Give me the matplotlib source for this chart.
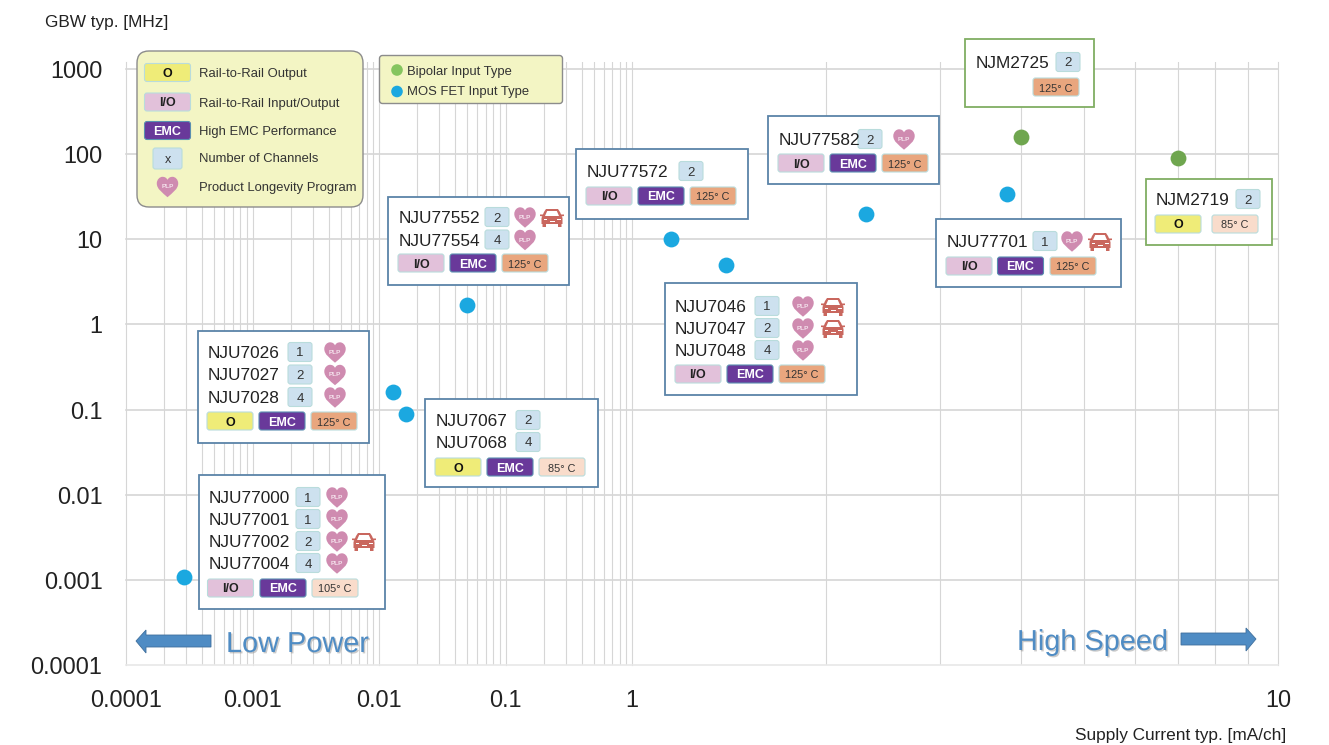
import numpy as np
import matplotlib
matplotlib.use("Agg")
import matplotlib.pyplot as plt
from matplotlib.patches import FancyBboxPatch, Rectangle, PathPatch, Polygon, Circle
from matplotlib.path import Path
import matplotlib.patheffects as pe

plt.rcParams['font.family'] = ['Liberation Sans', 'DejaVu Sans']

# ---------- data ----------
mos_current = [0.00029, 0.0129, 0.0163, 0.0495, 1.149, 1.40, 2.30, 3.80]
mos_gbw = [0.00108, 0.16, 0.088, 1.7, 10, 5, 20, 34]
bipolar_current = [4.0, 7.0]
bipolar_gbw = [160, 90]
x_tick_values = [0.0001, 0.001, 0.01, 0.1, 1, 10]
x_tick_labels = ['0.0001', '0.001', '0.01', '0.1', '1', '10']
y_tick_values = [0.0001, 0.001, 0.01, 0.1, 1, 10, 100, 1000]
y_tick_labels = ['0.0001', '0.001', '0.01', '0.1', '1', '10', '100', '1000']

# ---------- style ----------
W, H = 1329, 745
AX_L, AX_R, AX_B, AX_T = 126, 1278, 665, 62
GRID = '#d6d6d6'
BLUE_DOT, GREEN_DOT = '#1ba8e0', '#6fa64f'
BOX_BLUE, BOX_GREEN = '#5b84a8', '#80ae62'
BADGE = {
    'O': ('#efec78', '#111111', True),
    'I/O': ('#e2c1da', '#222222', True),
    'EMC': ('#69399a', '#ffffff', True),
    '125° C': ('#e9a67e', '#333333', False),
    '105° C': ('#f9dccb', '#333333', False),
    '85° C': ('#f9dccb', '#333333', False),
}
PRESSED_RATIO = 646 / 126.5


def forward(v):
    v = np.asarray(v, dtype=float)
    lv = np.log10(np.maximum(v, 1e-12))
    return np.where(lv <= 0, lv, lv * PRESSED_RATIO)


def inverse(u):
    u = np.asarray(u, dtype=float)
    return np.where(u <= 0, 10.0 ** u, 10.0 ** (u / PRESSED_RATIO))


fig = plt.figure(figsize=(W / 100, H / 100), dpi=100, facecolor='white')
ax = fig.add_axes([AX_L / W, 1 - AX_B / H, (AX_R - AX_L) / W, (AX_B - AX_T) / H])
ax.set_xscale('function', functions=(forward, inverse))
ax.set_yscale('log')
ax.set_xlim(0.0001, 10)
ax.set_ylim(0.0001, 1000 * 10 ** (7 / 85.14))
for s in ax.spines.values():
    s.set_visible(False)

ax.set_xticks(x_tick_values, x_tick_labels)
ax.set_yticks(y_tick_values, y_tick_labels)
minor = [m * d for d in x_tick_values[:-1] for m in range(2, 10)]
ax.set_xticks(minor, [''] * len(minor), minor=True)
ax.set_yticks([], minor=True)
ax.tick_params(axis='x', which='major', length=0, pad=17.3, labelsize=16.8, labelcolor='#222222')
ax.tick_params(axis='y', which='major', length=0, pad=17, labelsize=16.8, labelcolor='#222222')
ax.tick_params(axis='both', which='minor', length=0)
ax.set_axisbelow(True)
ax.grid(True, axis='x', which='both', color=GRID, lw=0.8)
ax.grid(True, axis='y', which='major', color=GRID, lw=1.2)
ax.get_ygridlines()[0].set_color('#e8e8e8')
for ln in ax.get_ygridlines() + ax.get_xgridlines():
    ln.set_clip_on(False)

# overlay in pixels for callouts
ov = fig.add_axes([0, 0, 1, 1], zorder=3)
ov.set_xlim(0, W)
ov.set_ylim(H, 0)
ov.axis('off')
ov.patch.set_alpha(0)


def rounded(x0, y0, x1, y1, fc, ec, lw=0.8, r=2.5, z=4):
    ov.add_patch(FancyBboxPatch((x0 + r, y0 + r), x1 - x0 - 2 * r, y1 - y0 - 2 * r,
                                boxstyle=f'round,pad={r},rounding_size={r}',
                                fc=fc, ec=ec, lw=lw, zorder=z))


def badge(kind, x0, yc):
    fc, tc, bold = BADGE[kind]
    x1 = x0 + 46
    rounded(x0, yc - 9, x1, yc + 9, fc, '#b9dcdc' if kind != 'EMC' else '#5a8fb0')
    ov.text((x0 + x1) / 2, yc + 1.5, kind, ha='center', va='center', color=tc,
            fontsize=9 if bold else 7.8, fontweight='bold' if bold else 'normal', zorder=5)


def chan(n, x0, yc, w=24, h=19):
    rounded(x0, yc - h / 2, x0 + w, yc + h / 2, '#cde1ef', '#b9dcdc')
    ov.text(x0 + w / 2, yc + 1.5, n, ha='center', va='center', fontsize=9.5, color='#333333', zorder=5)


def heart(cx, cy, s=1.02):
    # pixel offsets of the heart outline
    v = [(0, 10.5), (-5, 6), (-10.5, 2.5), (-10.5, -3), (-10.5, -7), (-7.5, -9.5), (-5, -9.5),
         (-2.5, -9.5), (-1, -8.5), (0, -6.5), (1, -8.5), (2.5, -9.5), (5, -9.5),
         (7.5, -9.5), (10.5, -7), (10.5, -3), (10.5, 2.5), (5, 6), (0, 10.5)]
    codes = [Path.MOVETO] + [Path.CURVE4] * 18
    verts = [(cx + a * s, cy + b * s) for a, b in v]
    ov.add_patch(PathPatch(Path(verts, codes), fc='#cf8bb0', ec='none', zorder=5))
    ov.text(cx, cy + 0.5, 'PLP', ha='center', va='center', color='#f4e2ec', fontsize=4.6,
            fontweight='bold', zorder=6)


def car(cx, cy):
    c = '#c9675e'
    body = [(-10.5, 0), (-8, -6), (-6, -9), (6, -9), (8, -6), (10.5, 0), (10.5, 6), (9.5, 6), (9.5, 9), (6, 9),
            (6, 6), (-6, 6), (-6, 9), (-9.5, 9), (-9.5, 6), (-10.5, 6)]
    ov.add_patch(Polygon([(cx + a, cy + b) for a, b in body], closed=True, fc=c, ec='none', zorder=5))
    win = [(-7, -2), (-4.8, -7), (4.8, -7), (7, -2)]
    ov.add_patch(Polygon([(cx + a, cy + b) for a, b in win], closed=True, fc='white', ec='none', zorder=6))
    ov.add_patch(Rectangle((cx - 8.5, cy + 0.5), 3.2, 1.8, fc='white', ec='none', zorder=6))
    ov.add_patch(Rectangle((cx + 5.3, cy + 0.5), 3.2, 1.8, fc='white', ec='none', zorder=6))
    ov.add_patch(Rectangle((cx - 2.5, cy + 2.8), 5, 1.2, fc='white', ec='none', zorder=6))
    for sx in (-1, 1):
        ov.add_patch(Polygon([(cx + sx * 8, cy - 3.5), (cx + sx * 12, cy - 3.5), (cx + sx * 12, cy - 2),
                              (cx + sx * 9, cy - 1.5)], closed=True, fc=c, ec='none', zorder=5))


def callout(rect, ec, rows, badges, row_y):
    x0, y0, x1, y1 = rect
    ov.add_patch(Rectangle((x0, y0), x1 - x0, y1 - y0, fc='white', ec=ec, lw=1.3, zorder=3))
    for r in rows:
        name, nx, y, n, cxx, hx, crx = r
        ov.text(nx, y + 1.5, name, ha='left', va='center', fontsize=12.4, color='#222222', zorder=5)
        chan(n, cxx, y)
        if hx:
            heart(hx, y)
        if crx:
            car(crx, y + 1)
    for kind, bx in badges:
        badge(kind, bx, row_y)


callout((388, 197, 569, 285), BOX_BLUE,
        [('NJU77552', 399, 217, '2', 485, 525, 552), ('NJU77554', 399, 239.5, '4', 485, 525, None)],
        [('I/O', 398), ('EMC', 450), ('125° C', 502)], 263)
callout((198, 331, 369, 443), BOX_BLUE,
        [('NJU7026', 208, 352, '1', 288, 335, None), ('NJU7027', 208, 374.5, '2', 288, 335, None),
         ('NJU7028', 208, 397, '4', 288, 335, None)],
        [('O', 207), ('EMC', 259), ('125° C', 311)], 421)
callout((198.5, 475, 385, 609), BOX_BLUE,
        [('NJU77000', 209, 497, '1', 296, 337, None), ('NJU77001', 209, 519, '1', 296, 337, None),
         ('NJU77002', 209, 541, '2', 296, 337, 364), ('NJU77004', 209, 563, '4', 296, 337, None)],
        [('I/O', 207.5), ('EMC', 260), ('105° C', 312)], 588)
callout((425, 399, 598, 487), BOX_BLUE,
        [('NJU7067', 436, 420, '2', 516, None, None), ('NJU7068', 436, 442, '4', 516, None, None)],
        [('O', 435), ('EMC', 487), ('85° C', 539)], 467)
callout((576, 149, 748, 219), BOX_BLUE,
        [('NJU77572', 587, 171, '2', 679, None, None)],
        [('I/O', 586), ('EMC', 638), ('125° C', 690)], 196)
callout((768, 116, 939, 184), BOX_BLUE,
        [('NJU77582', 779, 139, '2', 858, 904, None)],
        [('I/O', 778), ('EMC', 830), ('125° C', 882)], 163)
callout((665, 283, 857, 395), BOX_BLUE,
        [('NJU7046', 675, 306, '1', 755, 803, 833), ('NJU7047', 675, 328, '2', 755, 803, 833),
         ('NJU7048', 675, 350, '4', 755, 803, None)],
        [('I/O', 675), ('EMC', 727), ('125° C', 779)], 374)
callout((936, 219, 1121, 287), BOX_BLUE,
        [('NJU77701', 947, 241, '1', 1033, 1072, 1100)],
        [('I/O', 946), ('EMC', 997.5), ('125° C', 1050)], 266)
callout((965, 39, 1094, 107), BOX_GREEN,
        [('NJM2725', 976, 62, '2', 1056, None, None)],
        [('125° C', 1033)], 87)
callout((1145.5, 178.5, 1272, 245), BOX_GREEN,
        [('NJM2719', 1156, 199, '2', 1236, None, None)],
        [('O', 1155), ('85° C', 1212)], 224)

# legends
rounded(137, 51, 363, 207, '#f3f5c4', '#8c8c8c', lw=1.0, r=12, z=3)
for kind, yc in (('O', 72.5), ('I/O', 102), ('EMC', 130.5)):
    badge(kind, 144.5, yc)
rounded(153, 148, 182, 169, '#cde1ef', '#b9dcdc')
ov.text(167.5, 160, 'x', ha='center', va='center', fontsize=9, color='#333333', zorder=5)
heart(167.5, 186.5)
for txt, yc in (('Rail-to-Rail Output', 72.5), ('Rail-to-Rail Input/Output', 102),
                ('High EMC Performance', 130.5), ('Number of Channels', 158), ('Product Longevity Program', 186)):
    ov.text(199, yc + 1.5, txt, ha='left', va='center', fontsize=9.4, color='#333333', zorder=5)
rounded(379.5, 55.5, 562.5, 103.5, '#f3f5c4', '#8c8c8c', lw=1.0, r=3, z=3)
ov.add_patch(Circle((397, 70), 5.8, fc='#85c55f', ec='none', zorder=5))
ov.add_patch(Circle((397, 91.5), 5.8, fc=BLUE_DOT, ec='none', zorder=5))
ov.text(407, 71.5, 'Bipolar Input Type', ha='left', va='center', fontsize=9.4, color='#333333', zorder=5)
ov.text(407, 92.5, 'MOS FET Input Type', ha='left', va='center', fontsize=9.4, color='#333333', zorder=5)

# direction arrows and captions
ARROW = '#4f8cc4'
ov.add_patch(Polygon([(136, 641), (146, 630), (146, 635), (211, 635), (211, 647), (146, 647), (146, 653)],
                     closed=True, fc=ARROW, ec='#3f6f9c', lw=0.6, zorder=4))
ov.add_patch(Polygon([(1256, 639), (1246, 628), (1246, 633), (1181, 633), (1181, 645), (1246, 645), (1246, 651)],
                     closed=True, fc=ARROW, ec='#3f6f9c', lw=0.6, zorder=4))
shadow = [pe.withSimplePatchShadow(offset=(1, -1), shadow_rgbFace='#8a8a8a', alpha=0.45)]
ov.text(226, 644, 'Low Power', ha='left', va='center', fontsize=20.8, color=ARROW, zorder=5, path_effects=shadow)
ov.text(1017, 642, 'High Speed', ha='left', va='center', fontsize=20.8, color=ARROW, zorder=5, path_effects=shadow)

# axis titles
ov.text(45, 23, 'GBW typ. [MHz]', ha='left', va='center', fontsize=12.4, color='#222222')
ov.text(1075, 735.5, 'Supply Current typ. [mA/ch]', ha='left', va='center', fontsize=12.4, color='#222222')

# data points on top of the grid, through the chart's own scales
top = fig.add_axes(ax.get_position(), zorder=4, sharex=ax, sharey=ax)
top.patch.set_alpha(0)
top.axis('off')
top.scatter(mos_current, mos_gbw, s=130, c=BLUE_DOT, linewidths=0, zorder=6)
top.scatter(bipolar_current, bipolar_gbw, s=130, c=GREEN_DOT, linewidths=0, zorder=6)

fig.savefig('out.png', dpi=100)
